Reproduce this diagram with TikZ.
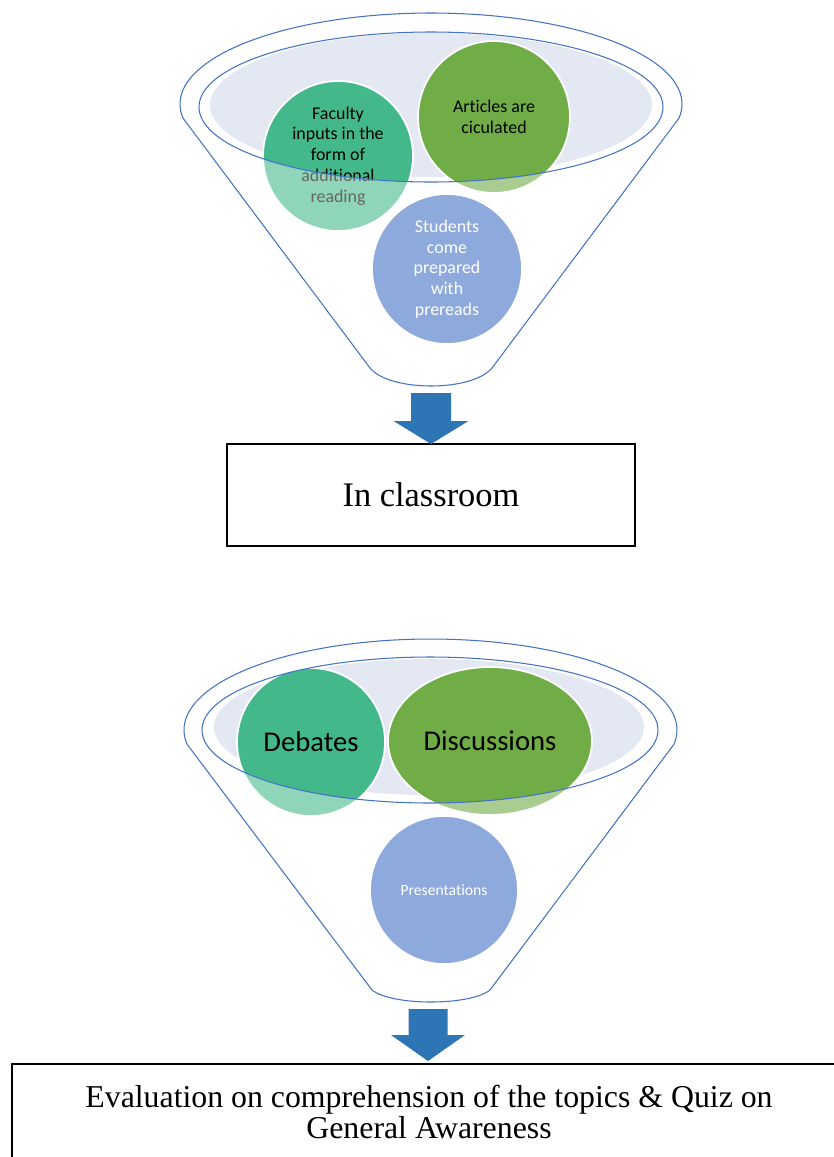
\documentclass[tikz,border=0pt]{standalone}
\usepackage{fontspec}
\newfontfamily\carlito[Ligatures={NoCommon}]{Carlito}
\newfontfamily\tnr{Liberation Serif}
\usetikzlibrary{shapes.geometric,calc}
\definecolor{funnelblue}{HTML}{4472C4}
\definecolor{funnelfill}{HTML}{E3E8F3}
\definecolor{tealgreen}{HTML}{43B98B}
\definecolor{leafgreen}{HTML}{70AD47}
\definecolor{softblue}{HTML}{8EA9DB}
\definecolor{arrowblue}{HTML}{2E75B6}
\tikzset{
  funnelline/.style={draw=funnelblue, line width=0.6pt},
  bubble/.style={circle, draw=white, line width=1pt, inner sep=0pt, align=center,
    font=\carlito\fontsize{10.2}{11.8}\selectfont},
  bigbubble/.style={bubble, font=\carlito\fontsize{16.3}{19}\selectfont},
  textbox/.style={draw=black, line width=0.8pt, align=center},
  blockarrow/.style={fill=arrowblue},
  fade/.style={fill=white, fill opacity=0.4, even odd rule}
}
\begin{document}
\begin{tikzpicture}[x=0.02cm,y=-0.02cm]
\useasboundingbox (0,0) rectangle (834,1157);
\clip (0,0) rectangle (834,1157);

% ---------- funnel 1 ----------
\draw[funnelline] plot[domain=171:369,samples=90] ({431+251*cos(\x)},{104+91*sin(\x)})
  -- (492,368) .. controls (472,392) and (390,392) .. (370,368) -- cycle;
\fill[funnelfill] (431,105) ellipse [x radius=221, y radius=72];

\node[bubble, fill=tealgreen, minimum size=3cm] (faculty) at (338,156)
  {Faculty\\inputs in the\\form of\\additional\\reading};
\node[bubble, fill=leafgreen, minimum size=3.04cm] (articles) at (494,117)
  {Articles are\\ciculated};
\node[bubble, fill=softblue, text=white, minimum size=3cm] (students) at (447,269)
  {Students\\come\\prepared\\with\\prereads};

\begin{scope}
  \clip (faculty.center) circle [radius=75];
  \fill[fade] (0,0) rectangle (834,1157) (431,107) ellipse [x radius=232, y radius=75];
\end{scope}
\begin{scope}
  \clip (articles.center) circle [radius=76];
  \fill[fade] (0,0) rectangle (834,1157) (431,107) ellipse [x radius=232, y radius=75];
\end{scope}
\draw[funnelline] (431,107) ellipse [x radius=232, y radius=75];

% arrow 1 and box 1
\node[textbox, minimum width=8.16cm, minimum height=2.04cm,
  font=\tnr\fontsize{19.6}{23}\selectfont] (inclass) at (431,495) {In classroom};
\coordinate (tip1) at (431,444);
\fill[blockarrow] (tip1) -- ($(tip1)+(37.5,-23)$) -- ($(tip1)+(20,-23)$) -- ($(tip1)+(20,-51)$)
  -- ($(tip1)+(-20,-51)$) -- ($(tip1)+(-20,-23)$) -- ($(tip1)+(-37.5,-23)$) -- cycle;

% ---------- funnel 2 ----------
\draw[funnelline] plot[domain=171:369,samples=90] ({430.5+246.5*cos(\x)},{730+91*sin(\x)})
  -- (490,990) .. controls (470,1006) and (392,1006) .. (372,990) -- cycle;
\fill[funnelfill] (429,727) ellipse [x radius=215, y radius=68];

\node[bigbubble, fill=tealgreen, minimum size=2.96cm] (debates) at (311,742) {Debates};
\node[bigbubble, ellipse, fill=leafgreen, minimum width=4.08cm, minimum height=2.96cm]
  (discussions) at (490,741) {Discussions};
\node[bubble, fill=softblue, text=white, minimum size=2.96cm,
  font=\carlito\fontsize{8.9}{10.5}\selectfont] (presentations) at (444,890) {Presentations};

\begin{scope}
  \clip (debates.center) circle [radius=74];
  \fill[fade] (0,0) rectangle (834,1157) (430,730) ellipse [x radius=228, y radius=73];
\end{scope}
\begin{scope}
  \clip (discussions.center) ellipse [x radius=102, y radius=74];
  \fill[fade] (0,0) rectangle (834,1157) (430,730) ellipse [x radius=228, y radius=73];
\end{scope}
\draw[funnelline] (430,730) ellipse [x radius=228, y radius=73];

% arrow 2 and box 2
\node[textbox, minimum width=16.68cm, minimum height=1.92cm,
  font=\tnr\fontsize{18.1}{17.3}\selectfont] (evaluation) at (429,1112)
  {Evaluation on comprehension of the topics \& Quiz on\\General Awareness};
\coordinate (tip2) at (428,1061);
\fill[blockarrow] (tip2) -- ($(tip2)+(37,-26)$) -- ($(tip2)+(19.5,-26)$) -- ($(tip2)+(19.5,-52)$)
  -- ($(tip2)+(-19.5,-52)$) -- ($(tip2)+(-19.5,-26)$) -- ($(tip2)+(-37,-26)$) -- cycle;
\end{tikzpicture}
\end{document}
